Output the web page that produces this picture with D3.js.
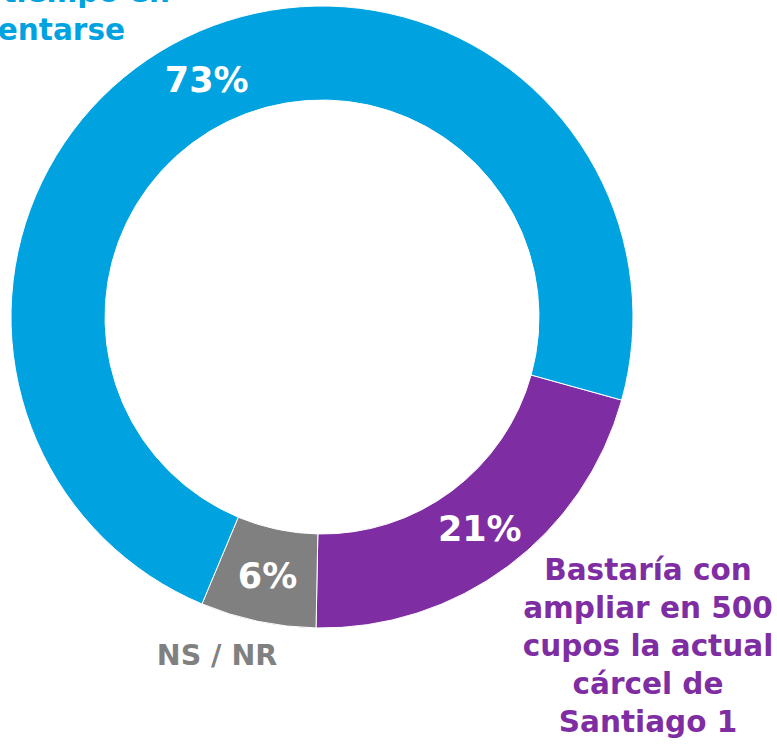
<!DOCTYPE html>
<html>
<head>
<meta charset="utf-8">
<script src="https://cdn.jsdelivr.net/npm/d3@7"></script>
<style>
  body { margin: 0; background: #fff; }
  svg text { font-family: "DejaVu Sans", sans-serif; font-weight: bold; }
</style>
</head>
<body>
<div id="chart"></div>
<script>
// data
var categories = ["Bastaría con ampliar en 500 cupos la actual cárcel de Santiago 1", "NS / NR", "tiempo en implementarse"];
var values = [21, 6, 73];
var colors = ["#7f2da3", "#808080", "#00a3df"];

var svgWidth = 777;
var svgHeight = 744;

var cx = 322, cy = 317;
var outerR = 311, innerR = 217;

var svg = d3.select("#chart")
  .append("svg")
  .attr("width", svgWidth)
  .attr("height", svgHeight);

var g = svg.append("g")
  .attr("transform", `translate(${cx}, ${cy})`);

// purple slice starts a bit below 3 o'clock
var start = 105.5 * Math.PI / 180;
var pie = d3.pie()
  .sort(null)
  .value(d => d)
  .startAngle(start)
  .endAngle(start + 2 * Math.PI);

var arc = d3.arc()
  .innerRadius(innerR)
  .outerRadius(outerR);

var arcs = pie(values);

g.selectAll("path")
  .data(arcs)
  .enter()
  .append("path")
  .attr("d", arc)
  .attr("fill", (d, i) => colors[i])
  .attr("stroke", "#fff")
  .attr("stroke-width", 1);

// percentage labels
g.selectAll("text.pct")
  .data(arcs)
  .enter()
  .append("text")
  .attr("class", "pct")
  .attr("transform", d => `translate(${arc.centroid(d)})`)
  .attr("text-anchor", "middle")
  .attr("dy", "0.36em")
  .attr("font-size", "35px")
  .attr("fill", "#fff")
  .text(d => d.value + "%");

// category labels
var purpleLines = ["Bastaría con", "ampliar en 500", "cupos la actual", "cárcel de", "Santiago 1"];
var purple = svg.append("text")
  .attr("text-anchor", "middle")
  .attr("font-size", "29.5px")
  .attr("fill", colors[0]);
purple.selectAll("tspan")
  .data(purpleLines)
  .enter()
  .append("tspan")
  .attr("x", 648)
  .attr("y", (d, i) => 580 + i * 38)
  .text(d => d);

svg.append("text")
  .attr("x", 217)
  .attr("y", 665)
  .attr("text-anchor", "middle")
  .attr("font-size", "28.5px")
  .attr("fill", colors[1])
  .text(categories[1]);

// blue label, cut off by the top-left edge
var blue = svg.append("text")
  .attr("text-anchor", "end")
  .attr("font-size", "29.5px")
  .attr("fill", colors[2]);
blue.append("tspan").attr("x", 170).attr("y", 2).text("tiempo en");
blue.append("tspan").attr("x", 125).attr("y", 40).text("implementarse");
</script>
</body>
</html>
